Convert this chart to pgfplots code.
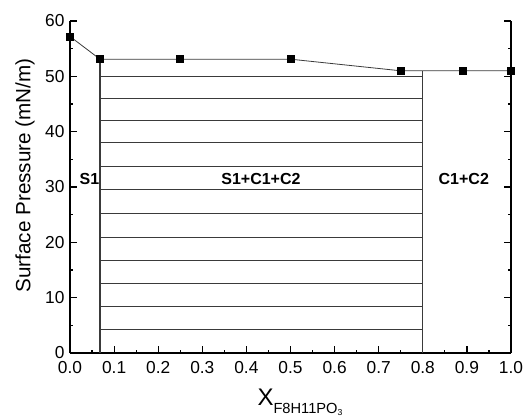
\documentclass[border=0pt]{standalone}
\usepackage{fontspec}
\setmainfont{Liberation Sans}
\usepackage{pgfplots}
\pgfplotsset{compat=1.18}
\definecolor{lin}{HTML}{3A3A3A}

\begin{document}
\begin{tikzpicture}
\useasboundingbox (-52.5pt,-47.25pt) rectangle (339.75pt,264.75pt);
\begin{axis}[
  scale only axis, width=330.75pt, height=249pt,
  xmin=0, xmax=1, ymin=0, ymax=60,
  axis x line=bottom, axis y line=box,
  axis line style={line width=1.1pt,-},
  xtick={0,0.1,...,1.0}, minor x tick num=1,
  ytick={0,10,...,60}, minor y tick num=1,
  xticklabels={0.0,0.1,0.2,0.3,0.4,0.5,0.6,0.7,0.8,0.9,1.0},
  tick align=inside, ytick pos=both,
  major tick length=5pt, minor tick length=2.6pt,
  tick style={line width=0.9pt,black},
  /pgf/number format/assume math mode=true,
  tick label style={font=\fontsize{13}{14}\selectfont, inner sep=0.5pt},
  xticklabel style={yshift=-5.5pt},
  yticklabel style={xshift=-3.5pt},
  ylabel={Surface Pressure (mN/m)},
  ylabel style={at={(axis description cs:-0.1247,0.535)}, anchor=north, rotate=0,
    font=\fontsize{15.5}{17}\selectfont, inner sep=0pt},
  xlabel={{\fontsize{18}{18}\selectfont X}\raisebox{-6pt}{\fontsize{11}{11}\selectfont F8H11PO\raisebox{-1.5pt}{\fontsize{6.5}{6.5}\selectfont 3}}},
  xlabel style={at={(axis description cs:0.5215,-0.157)}, anchor=base, inner sep=0pt},
  unbounded coords=jump,
  clip=false,
]
% phase boundaries
\addplot[lin, line width=0.8pt] coordinates {(0.068,0) (0.068,53.1)};
\addplot[lin, line width=0.8pt] coordinates {(0.8,0) (0.8,51)};
% hatch lines in the S1+C1+C2 region
\addplot[lin, line width=0.8pt] coordinates {
(0.068,4.2) (0.8,4.2) (0.5,nan)
(0.068,8.45) (0.8,8.45) (0.5,nan)
(0.068,12.6) (0.8,12.6) (0.5,nan)
(0.068,16.8) (0.8,16.8) (0.5,nan)
(0.068,20.9) (0.8,20.9) (0.5,nan)
(0.068,25.2) (0.8,25.2) (0.5,nan)
(0.068,29.5) (0.8,29.5) (0.5,nan)
(0.068,33.7) (0.8,33.7) (0.5,nan)
(0.068,38.0) (0.8,38.0) (0.5,nan)
(0.068,42.1) (0.8,42.1) (0.5,nan)
(0.068,46.0) (0.8,46.0) (0.5,nan)
(0.068,50.0) (0.8,50.0)};
% measured points
\addplot[lin, line width=0.6pt, mark=square*, mark size=2.6pt,
  mark options={black, fill=black, solid}] coordinates {
(0,57.2) (0.068,53.1) (0.25,53.1) (0.5,53.1) (0.75,51) (0.89,51) (1.0,51)};
\node[font=\fontsize{12}{14}\selectfont\bfseries] at (axis cs:0.044,31.5) {S1};
\node[font=\fontsize{12}{14}\selectfont\bfseries] at (axis cs:0.433,31.5) {S1+C1+C2};
\node[font=\fontsize{12}{14}\selectfont\bfseries] at (axis cs:0.893,31.4) {C1+C2};
\end{axis}
\end{tikzpicture}
\end{document}
